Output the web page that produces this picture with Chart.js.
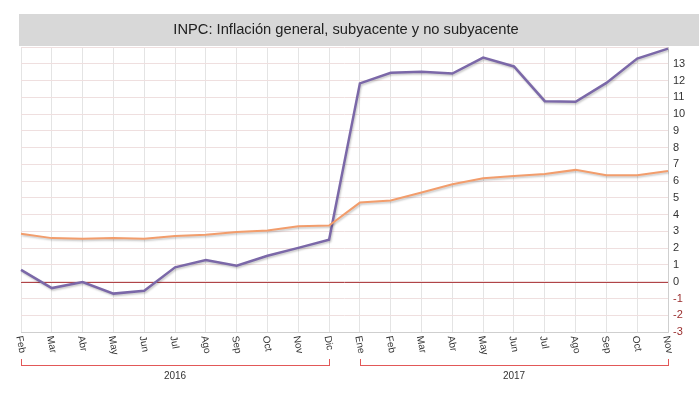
<!DOCTYPE html>
<html>
<head>
<meta charset="utf-8">
<script src="https://cdn.jsdelivr.net/npm/chart.js@4/dist/chart.umd.min.js"></script>
<style>
  html, body { margin: 0; padding: 0; background: #fff; }
  #wrap { width: 700px; height: 399px; position: relative; }
</style>
</head>
<body>
<div id="wrap"><canvas id="chart"></canvas></div>
<script>
var titleText = 'INPC: Inflación general, subyacente y no subyacente';
var months = ['Feb','Mar','Abr','May','Jun','Jul','Ago','Sep','Oct','Nov','Dic',
              'Ene','Feb','Mar','Abr','May','Jun','Jul','Ago','Sep','Oct','Nov'];
var noSubyacente = [0.71, -0.38, -0.02, -0.71, -0.54, 0.86, 1.29, 0.95, 1.55, 2.02, 2.5,
                    11.83, 12.46, 12.52, 12.42, 13.37, 12.84, 10.77, 10.73, 11.86, 13.31, 13.9];
var subyacente = [2.86, 2.6, 2.56, 2.6, 2.56, 2.72, 2.8, 2.96, 3.05, 3.31, 3.35,
                  4.72, 4.84, 5.32, 5.81, 6.17, 6.31, 6.43, 6.67, 6.35, 6.35, 6.61];
var yearLabels = ['2016', '2017'];
var yearFirst = [0, 11];
var yearLast = [10, 21];

// title band, rotated month labels and year brackets
var decor = {
  id: 'decor',
  beforeDraw: function (chart) {
    var c = chart.ctx;
    c.save();
    c.fillStyle = '#d8d8d8';
    c.fillRect(19, 14, 680, 32);
    c.fillStyle = '#222';
    c.font = '14.7px "Liberation Sans", Arial, sans-serif';
    c.textAlign = 'center';
    c.textBaseline = 'middle';
    c.fillText(titleText, 346, 30);
    c.restore();
  },
  beforeDatasetsDraw: function (chart) {
    // zero line, drawn over the grid
    var c = chart.ctx;
    var a = chart.chartArea;
    var y0 = Math.round(chart.scales.y.getPixelForValue(0)) + 0.5;
    c.save();
    c.strokeStyle = 'rgb(176,68,72)';
    c.lineWidth = 1;
    c.beginPath();
    c.moveTo(a.left, y0);
    c.lineTo(a.right, y0);
    c.stroke();
    c.restore();
  },
  beforeDatasetDraw: function (chart) {
    var c = chart.ctx;
    c.save();
    c.shadowColor = 'rgba(0,0,0,0.22)';
    c.shadowBlur = 2;
    c.shadowOffsetX = 1;
    c.shadowOffsetY = 1.5;
  },
  afterDatasetDraw: function (chart) {
    chart.ctx.restore();
  },
  afterDraw: function (chart) {
    var c = chart.ctx;
    var xs = chart.scales.x;
    var top = chart.chartArea.bottom + 4;
    c.save();
    c.font = '10px "Liberation Sans", Arial, sans-serif';
    c.fillStyle = '#333';
    c.textAlign = 'left';
    c.textBaseline = 'middle';
    for (let i = 0; i < months.length; i++) {
      c.save();
      c.translate(xs.getPixelForValue(i) - 2, top);
      c.rotate(Math.PI * 0.44);
      c.fillText(months[i], 0, 0);
      c.restore();
    }
    c.restore();

    for (let j = 0; j < yearLabels.length; j++) {
      var x0 = Math.round(xs.getPixelForValue(yearFirst[j]));
      var x1 = Math.round(xs.getPixelForValue(yearLast[j]));
      var yb = 365;
      c.save();
      c.fillStyle = 'rgb(226,88,88)';
      c.fillRect(x0, yb - 6, 1, 7);
      c.fillRect(x0, yb, x1 - x0 + 1, 1);
      c.fillRect(x1, yb - 6, 1, 7);
      c.fillStyle = '#333';
      c.font = '10px "Liberation Sans", Arial, sans-serif';
      c.textAlign = 'center';
      c.textBaseline = 'middle';
      c.fillText(yearLabels[j], (x0 + x1) / 2, yb + 11);
      c.restore();
    }
  }
};

var ctx = document.getElementById('chart').getContext('2d');
var chart = new Chart(ctx, {
  type: 'line',
  data: {
    labels: months,
    datasets: [
      {
        label: 'Subyacente',
        data: subyacente,
        borderColor: '#f29d6c',
        backgroundColor: '#f29d6c',
        borderWidth: 2,
        pointRadius: 0,
        tension: 0,
        fill: false
      },
      {
        label: 'No subyacente',
        data: noSubyacente,
        borderColor: '#7b68a8',
        backgroundColor: '#7b68a8',
        borderWidth: 2.5,
        pointRadius: 0,
        tension: 0,
        fill: false
      }
    ]
  },
  options: {
    responsive: true,
    maintainAspectRatio: false,
    animation: false,
    layout: { padding: { left: 21, right: 0, top: 47, bottom: 0 } },
    plugins: {
      legend: { display: false },
      tooltip: { enabled: false },
      title: { display: false }
    },
    scales: {
      x: {
        offset: false,
        grid: { color: '#e4e4e4', drawTicks: false },
        border: { color: '#cfcfcf' },
        ticks: { display: false },
        afterFit: function (s) { s.height = 67; }
      },
      y: {
        position: 'right',
        min: -3,
        max: 14,
        grid: { drawTicks: false, color: '#efdfdf' },
        border: { color: '#cfcfcf' },
        ticks: {
          stepSize: 1,
          padding: 5,
          font: { family: '"Liberation Sans", Arial, sans-serif', size: 11 },
          color: function (c) { return c.tick.value < 0 ? '#9a2e2e' : '#333'; },
          callback: function (v) { return v === 14 ? '' : v; }
        },
        afterFit: function (s) { s.width = 32; }
      }
    }
  },
  plugins: [decor]
});
</script>
</body>
</html>
